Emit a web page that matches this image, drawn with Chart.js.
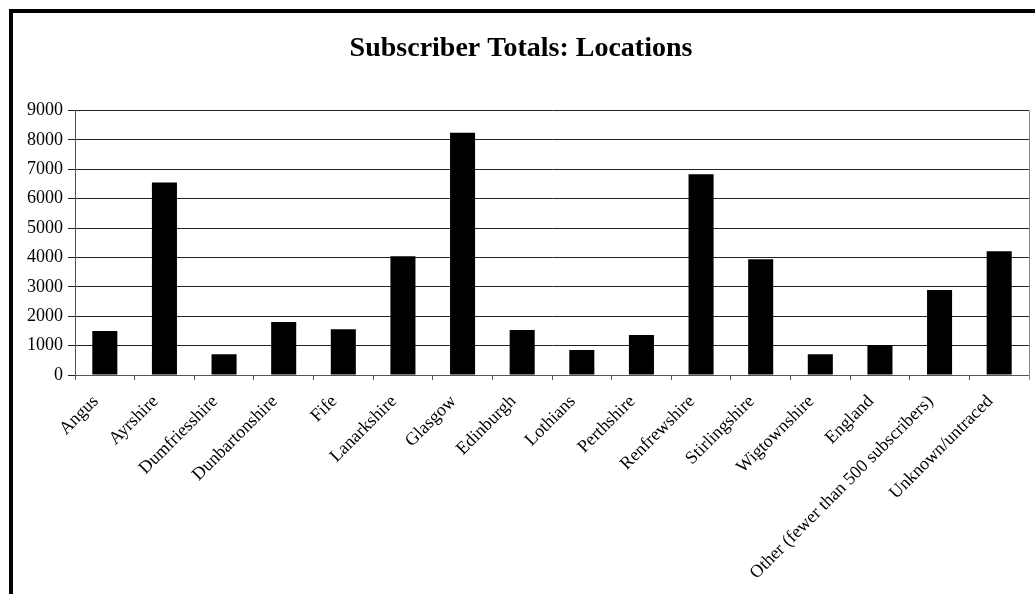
<!DOCTYPE html>
<html>
<head>
<meta charset="utf-8">
<title>Subscriber Totals: Locations</title>
<script src="https://cdn.jsdelivr.net/npm/chart.js@4.4.1/dist/chart.umd.min.js"></script>
<style>
  html, body { margin: 0; padding: 0; background: #fff; }
  #frame {
    position: absolute;
    left: 9px;
    top: 9px;
    width: 1026px;
    height: 585px;
    border-left: 4px solid #000;
    border-top: 4px solid #000;
    box-sizing: border-box;
  }
  #subsChart { display: block; }
</style>
</head>
<body>
<div id="frame">
  <canvas id="subsChart" width="1022" height="581"></canvas>
</div>
<script>
const locations = ['Angus', 'Ayrshire', 'Dumfriesshire', 'Dunbartonshire', 'Fife', 'Lanarkshire',
                   'Glasgow', 'Edinburgh', 'Lothians', 'Perthshire', 'Renfrewshire', 'Stirlingshire',
                   'Wigtownshire', 'England', 'Other (fewer than 500 subscribers)', 'Unknown/untraced'];
const subscribers = [1500, 6550, 710, 1800, 1560, 4040, 8250, 1530, 850, 1360, 6830, 3940, 710, 1020, 2890, 4210];
const yTicks = [0, 1000, 2000, 3000, 4000, 5000, 6000, 7000, 8000, 9000];

const serif = "'Liberation Serif', 'Times New Roman', serif";

// closing line down the right side of the plot
const rightEdge = {
    id: 'rightEdge',
    afterDraw(chart) {
        const { ctx, chartArea } = chart;
        const x = Math.round(chartArea.right) + 0.5;
        ctx.save();
        ctx.strokeStyle = '#888';
        ctx.lineWidth = 1;
        ctx.beginPath();
        ctx.moveTo(x, chartArea.top);
        ctx.lineTo(x, chartArea.bottom + 5);
        ctx.stroke();
        ctx.restore();
    }
};

document.addEventListener('DOMContentLoaded', function () {
    const ctx = document.getElementById('subsChart').getContext('2d');
    new Chart(ctx, {
        type: 'bar',
        data: {
            labels: locations,
            datasets: [{
                label: 'Subscribers',
                data: subscribers,
                backgroundColor: '#000',
                borderWidth: 0,
                barPercentage: 0.42,
                categoryPercentage: 1
            }]
        },
        options: {
            responsive: false,
            animation: false,
            layout: {
                padding: { left: 0, right: 6, top: 0, bottom: 0 }
            },
            plugins: {
                legend: { display: false },
                tooltip: { enabled: false },
                title: {
                    display: true,
                    text: 'Subscriber Totals: Locations',
                    color: '#000',
                    font: { family: serif, size: 28, weight: 'bold' },
                    padding: { top: 19, bottom: 45 }
                }
            },
            scales: {
                x: {
                    grid: {
                        display: true,
                        drawOnChartArea: false,
                        drawTicks: true,
                        tickLength: 5,
                        color: '#555',
                        offset: true
                    },
                    border: { display: true, color: '#555' },
                    ticks: {
                        autoSkip: false,
                        minRotation: 45,
                        maxRotation: 45,
                        color: '#000',
                        padding: 11,
                        labelOffset: -9,
                        font: { family: serif, size: 18 }
                    },
                    afterFit(scale) {
                        scale.height = 219;
                    }
                },
                y: {
                    min: 0,
                    max: 9000,
                    afterBuildTicks(scale) {
                        scale.ticks = yTicks.map(v => ({ value: v }));
                    },
                    grid: {
                        color: '#222',
                        lineWidth: 1,
                        tickLength: 7,
                        drawTicks: true
                    },
                    border: { display: true, color: '#555' },
                    ticks: {
                        color: '#000',
                        padding: 5,
                        font: { family: serif, size: 18 },
                        callback: v => String(v)
                    },
                    afterFit(scale) {
                        scale.width = 62;
                    }
                }
            }
        },
        plugins: [rightEdge]
    });
});
</script>
</body>
</html>
